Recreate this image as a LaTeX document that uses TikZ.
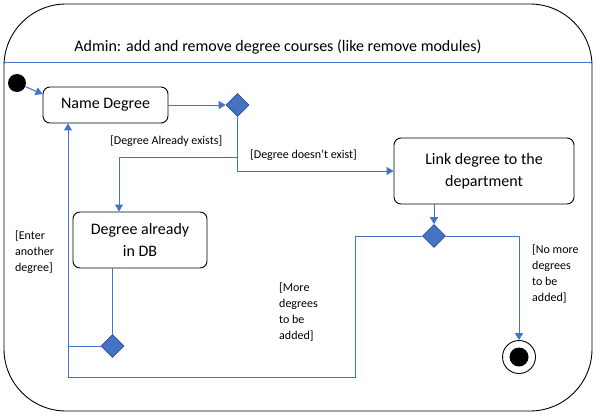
\documentclass[tikz,border=0pt]{standalone}
\usepackage{fontspec}
\setmainfont{Carlito}
\usetikzlibrary{arrows.meta,shapes.geometric,calc}
\definecolor{oblue}{HTML}{4472C4}
\definecolor{dblue}{HTML}{2F528F}
\begin{document}
\begin{tikzpicture}[x=1pt,y=-1pt,
 act/.style={draw=black, rounded corners=7pt, line width=0.9pt, align=center, font=\fontsize{16}{22}\selectfont, inner sep=0pt},
 dec/.style={diamond, fill=oblue, draw=dblue, minimum width=23pt, minimum height=23pt, inner sep=0pt, line width=0.6pt},
 flow/.style={oblue, line width=1pt},
 arr/.style={flow, -{Triangle[width=8pt,length=7pt]}},
 lbl/.style={font=\fontsize{12}{15.7}\selectfont, align=left, anchor=west, inner sep=0pt}]
\useasboundingbox (0,0) rectangle (599,415);
% frame
\draw[line width=0.9pt, rounded corners=62pt] (4,4) rectangle (592,411);
\draw[oblue, line width=1pt] (4,62) -- (591.5,62);
\node[font=\fontsize{16}{19}\selectfont] (title) at (278,47) {Admin: add and remove degree courses (like remove modules)};
% nodes
\node[circle, fill=black, minimum size=18pt, inner sep=0pt] (init) at (17,83) {};
\node[act, minimum width=125pt, minimum height=36pt] (name) at (105.5,105) {Name Degree};
\node[dec] (d1) at (237.5,105) {};
\node[act, minimum width=134pt, minimum height=56pt] (already) at (140,240) {Degree already\\in DB};
\node[act, minimum width=180pt, minimum height=66pt] (link) at (484,171) {Link degree to the\\department};
\node[dec] (d2) at (434,236) {};
\node[dec] (d3) at (112.5,346) {};
\node[circle, draw=black, line width=0.9pt, minimum size=33pt, inner sep=0pt] (final) at (519,357) {};
\node[circle, fill=black, minimum size=19pt, inner sep=0pt] (finalin) at (final.center) {};
% bend points
\coordinate (j1) at (237.5,157);
\coordinate (k1) at (119,157);
\coordinate (b1) at (355,377);
\coordinate (b2) at (68,377);
% edges
\draw[arr] (init) -- ($(name.west)+(0,-11)$);
\draw[arr] (name.east) -- (d1.west);
\draw[arr] (d1.south) |- (link.west);
\draw[arr] (j1) -- (k1) -- (k1 |- already.north);
\draw[arr] (link.south -| d2) -- (d2.north);
\draw[arr] (d2.west) -| (b1) -- (b2) -- (b2 |- name.south);
\draw[arr] (d2.east) -| (final.north);
\draw[flow] (already.south -| d3) -- (d3.north);
\draw[flow] (d3.west) -- (d3.west -| b2);
% labels
\node[lbl] (l1) at (110,141) {[Degree Already exists]};
\node[lbl] (l2) at (250,155) {[Degree doesn’t exist]};
\node[lbl] (l3) at (15,252) {[Enter\\another\\degree]};
\node[lbl] (l4) at (279,312) {[More\\degrees\\to be\\added]};
\node[lbl] (l5) at (532,274) {[No more\\degrees\\to be\\added]};
\end{tikzpicture}
\end{document}
